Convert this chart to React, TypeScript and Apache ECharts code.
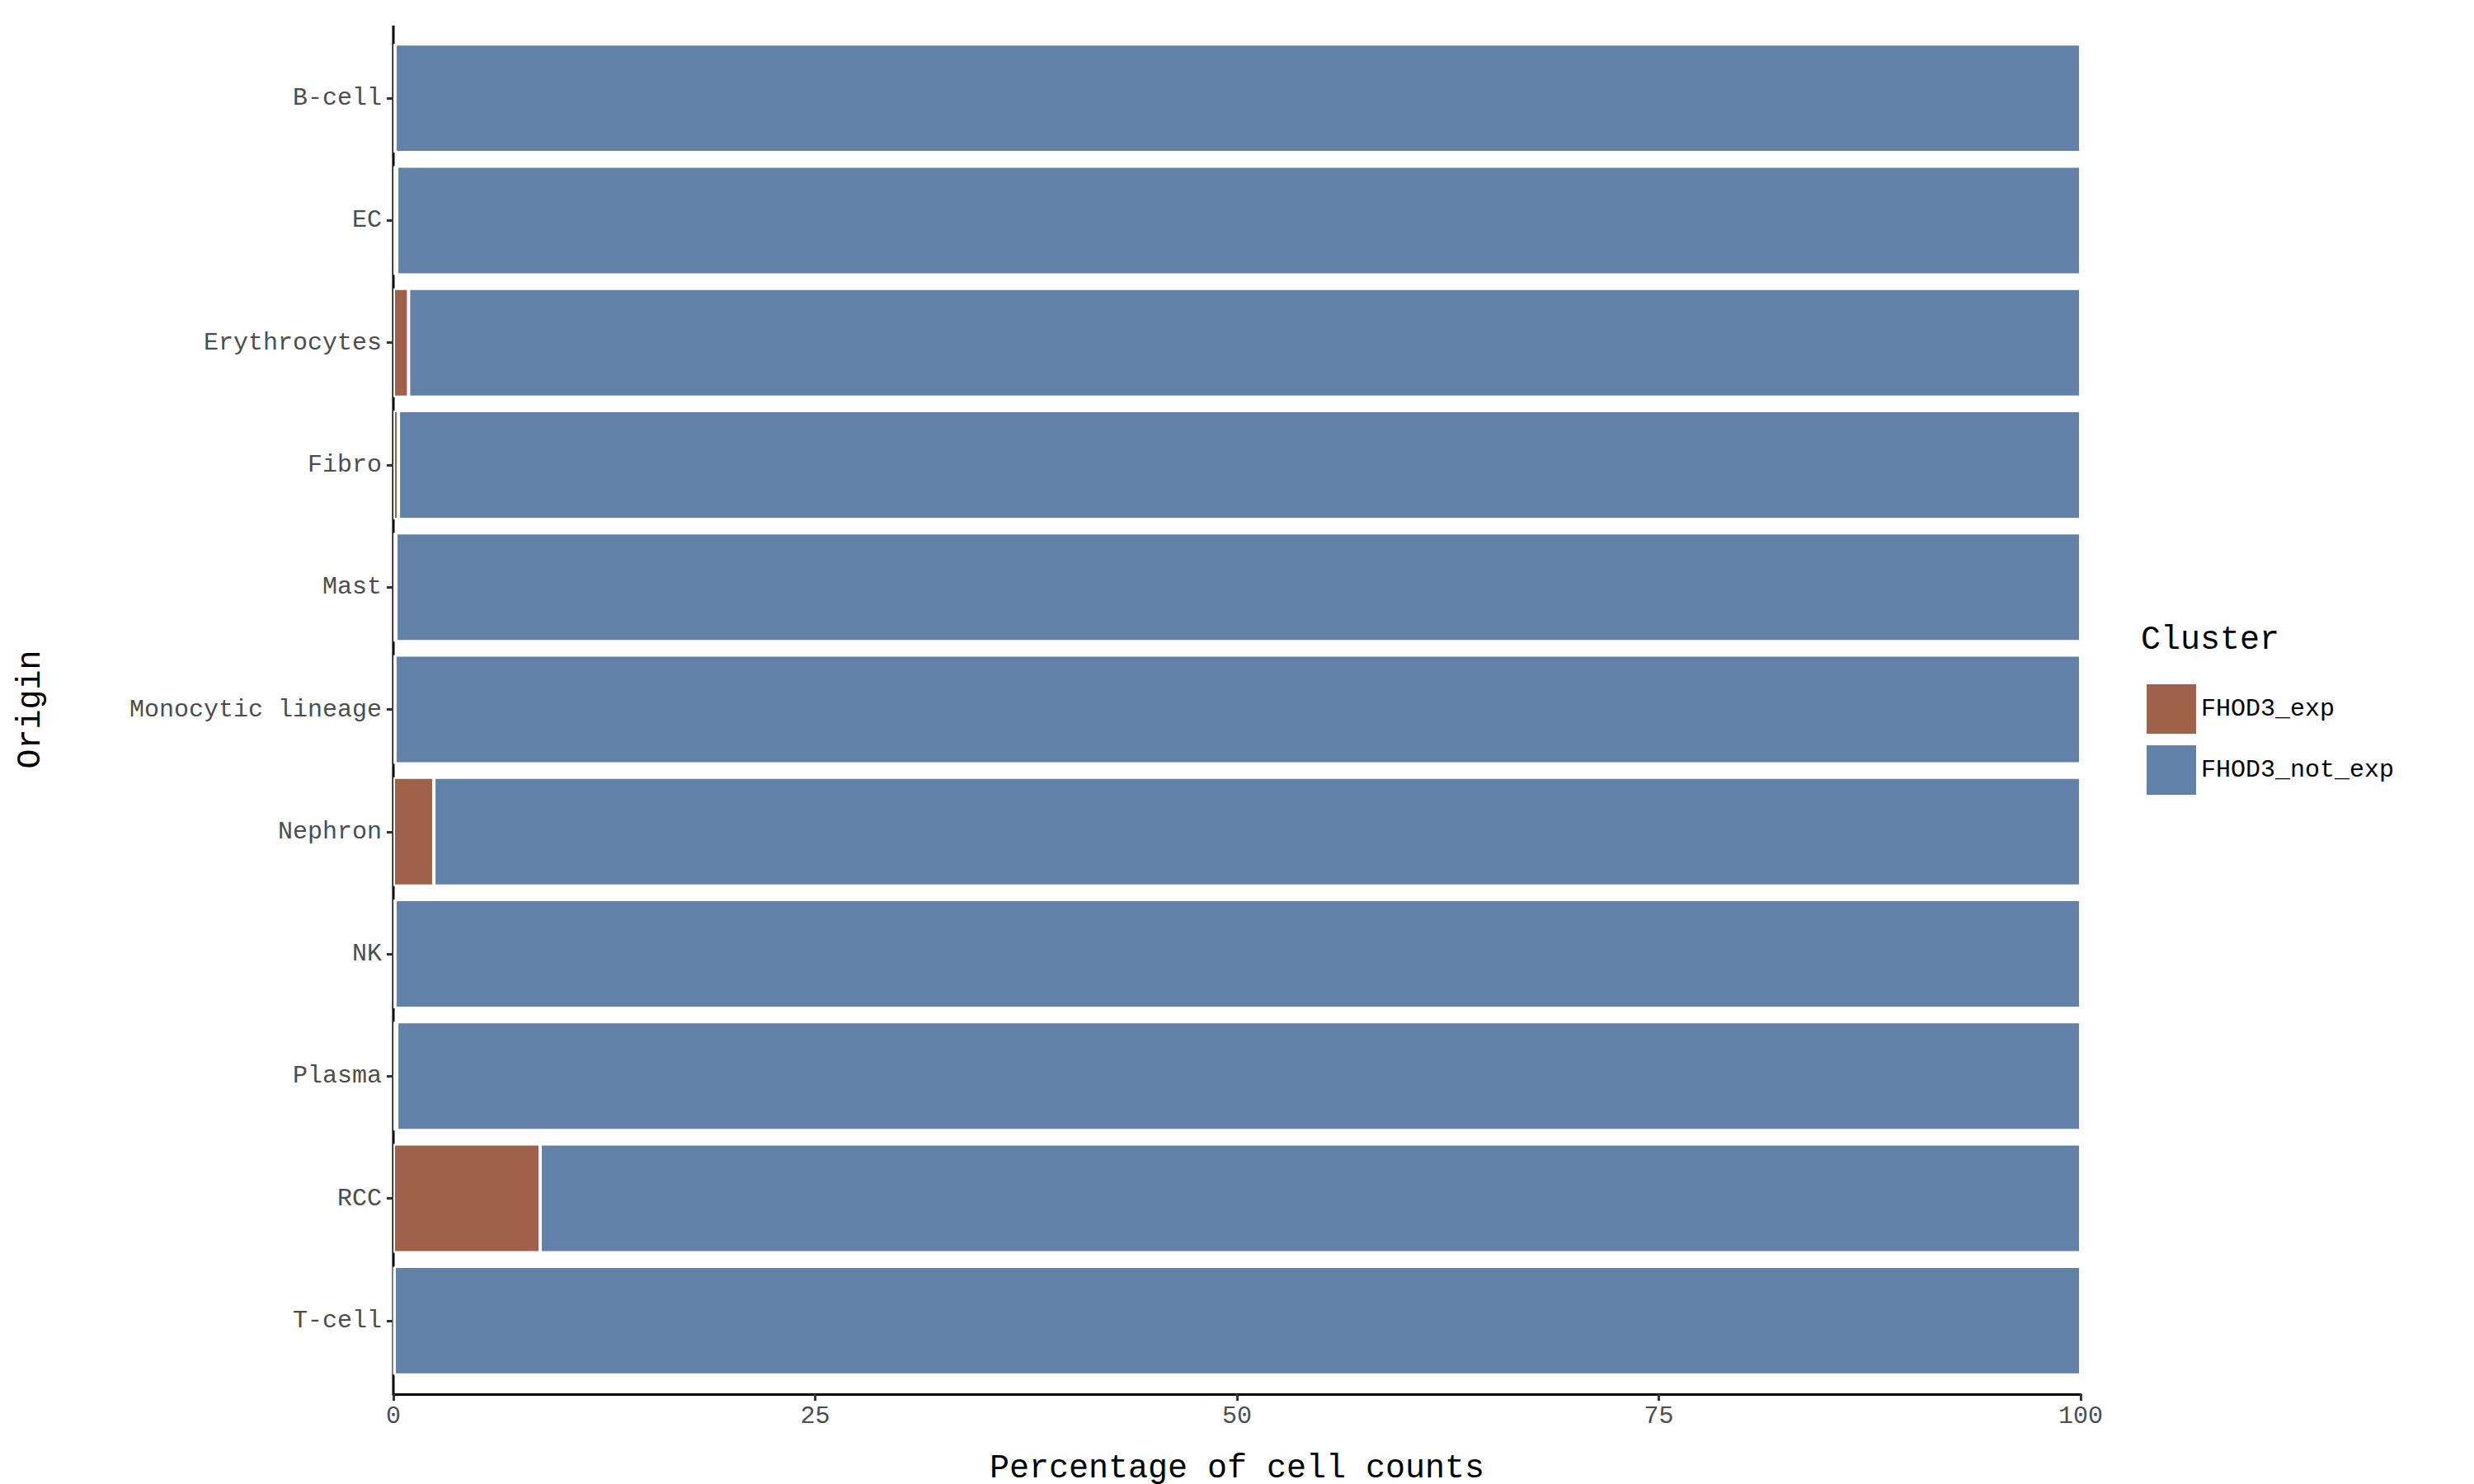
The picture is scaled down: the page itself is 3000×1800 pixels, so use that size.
import { useEffect, useRef } from 'react'
import * as echarts from 'echarts'

const categories = ['B-cell', 'EC', 'Erythrocytes', 'Fibro', 'Mast', 'Monocytic lineage', 'Nephron', 'NK', 'Plasma', 'RCC', 'T-cell']
const expValues = [0.1, 0.2, 0.9, 0.3, 0.15, 0.1, 2.4, 0.1, 0.2, 8.7, 0.05]
const notExpValues = expValues.map((v) => 100 - v)
const xTicks = [0, 25, 50, 75, 100]

const FONT = '"Liberation Mono", "DejaVu Sans Mono", monospace'

export default function App() {
  const ref = useRef<HTMLDivElement>(null)

  useEffect(() => {
    if (!ref.current) return
    const chart = echarts.init(ref.current, undefined, { renderer: 'svg' })
    chart.setOption({
      animation: false,
      backgroundColor: '#ffffff',
      grid: { left: 469, right: 3000 - 2515, top: 37, bottom: 132 },
      legend: {
        left: 2588,
        top: 815,
        orient: 'vertical',
        itemWidth: 62,
        itemHeight: 62,
        itemGap: 10,
        icon: 'rect',
        textStyle: { fontFamily: FONT, fontSize: 30, color: '#000' },
        data: ['FHOD3_exp', 'FHOD3_not_exp'],
      },
      xAxis: {
        type: 'value',
        min: 0,
        max: 100,
        interval: 25,
        offset: 15,
        name: 'Percentage of cell counts',
        nameLocation: 'middle',
        nameGap: 70,
        nameTextStyle: { fontFamily: FONT, fontSize: 40, color: '#000' },
        axisLine: { show: true, lineStyle: { color: '#000', width: 3 } },
        axisTick: { show: true, length: 8, lineStyle: { color: '#333', width: 3 } },
        axisLabel: {
          fontFamily: FONT,
          fontSize: 30,
          color: '#4d4d4d',
          margin: 12,
          formatter: (v: number) => (xTicks.includes(v) ? String(v) : ''),
        },
        splitLine: { show: false },
      },
      yAxis: {
        type: 'category',
        inverse: true,
        data: categories,
        name: 'Origin',
        nameLocation: 'middle',
        nameGap: 420,
        nameRotate: 90,
        nameTextStyle: { fontFamily: FONT, fontSize: 40, color: '#000' },
        axisLine: { show: false },
        axisTick: { show: true, alignWithLabel: true, length: 8, lineStyle: { color: '#333', width: 3 } },
        axisLabel: { fontFamily: FONT, fontSize: 30, color: '#4d4d4d', margin: 14 },
      },
      graphic: [
        { type: 'line', shape: { x1: 469, y1: 23, x2: 469, y2: 1684 }, style: { stroke: '#000', lineWidth: 3 } },
        {
          type: 'text',
          left: 2588,
          top: 748,
          style: { text: 'Cluster', font: `40px ${FONT}`, fill: '#000' },
        },
      ],
      series: [
        {
          name: 'FHOD3_exp',
          type: 'bar',
          stack: 'total',
          data: expValues,
          barCategoryGap: '11%',
          itemStyle: { color: '#A0604A', borderColor: '#ffffff', borderWidth: 2 },
        },
        {
          name: 'FHOD3_not_exp',
          type: 'bar',
          stack: 'total',
          data: notExpValues,
          barCategoryGap: '11%',
          itemStyle: { color: '#6181A8', borderColor: '#ffffff', borderWidth: 2 },
        },
      ],
    })
    return () => chart.dispose()
  }, [])

  return <div ref={ref} style={{ width: 3000, height: 1800 }} />
}
